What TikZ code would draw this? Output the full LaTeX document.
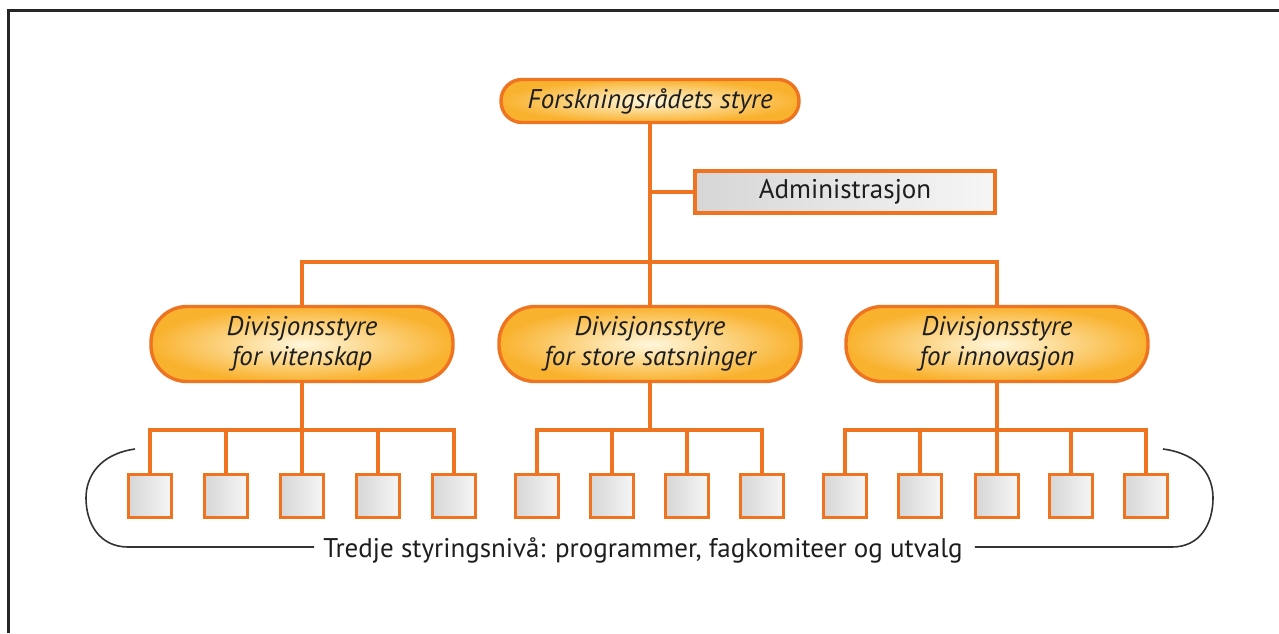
\documentclass[tikz,border=0pt]{standalone}
\usepackage{fontspec}
\setmainfont{PT Sans}
\begin{document}
\begin{tikzpicture}[x=1pt,y=-1pt,
  orangeline/.style={draw=orgline,line width=3.4pt},
  link/.style={orangeline,line cap=rect},
  pill/.style={orangeline,rounded corners=#1,inner color=pillin,outer color=pillout,
    font=\itshape\color{txt},align=center},
  adminbox/.style={orangeline,left color=boxdark,right color=boxlight,
    minimum width=300pt,minimum height=42pt,font=\fontsize{27}{30}\selectfont\color{txt}},
  unitbox/.style={orangeline,left color=boxdark,right color=boxlight,
    minimum width=43pt,minimum height=43pt,inner sep=0pt},
  bracket/.style={draw=black!80,line width=1.6pt}]
\definecolor{orgline}{HTML}{EE7421}
\definecolor{pillin}{HTML}{FFF7DC}
\definecolor{pillout}{HTML}{F9B22E}
\definecolor{boxdark}{HTML}{D6D6D6}
\definecolor{boxlight}{HTML}{F6F6F6}
\definecolor{txt}{HTML}{1E1E1E}
\useasboundingbox (0,0) rectangle (1279,633);
\fill[white] (0,0) rectangle (1279,633);
% frame
\draw[black!85,line width=2.2pt] (8.5,633) -- (8.5,10.5) -- (1279,10.5);

% top level
\node[pill=21pt,minimum width=298pt,minimum height=43pt,font=\itshape\fontsize{27}{30}\selectfont\color{txt}]
  (top) at (650,101) {Forskningsrådets styre};
\node[adminbox] (adm) at (845,192) {Administrasjon};

% division boards
\tikzset{div/.style={pill=36pt,minimum width=302pt,minimum height=75pt,
  font=\itshape\fontsize{27}{30}\selectfont\color{txt}}}
\node[div] (dl) at (302,344) {Divisjonsstyre\\for vitenskap};
\node[div] (dm) at (650,344) {Divisjonsstyre\\for store satsninger};
\node[div] (dr) at (997,344) {Divisjonsstyre\\for innovasjon};

% third level units
\foreach \n/\x in {l1/150,l2/226,l3/302,l4/378,l5/454,
                   m1/537,m2/612,m3/687,m4/762,
                   r1/845,r2/920,r3/997,r4/1071,r5/1146}
  \node[unitbox] (\n) at (\x,496) {};

% connectors
\coordinate (bus) at (650,262);
\draw[link] (top) -- (dm);
\draw[link] (top.south |- adm.west) -- (adm.west);
\draw[link] (dl.north) |- (bus) -| (dr.north);

\coordinate (bl) at (302,430);
\coordinate (bm) at (650,430);
\coordinate (br) at (997,430);
\draw[link] (dl) -- (bl);
\draw[link] (dm) -- (bm);
\draw[link] (dr) -- (br);
\draw[link] (l1.north) |- (bl) -| (l5.north);
\foreach \n in {l2,l3,l4} \draw[link] (\n.north) -- (\n.north |- bl);
\draw[link] (m1.north) |- (bm) -| (m4.north);
\foreach \n in {m2,m3} \draw[link] (\n.north) -- (\n.north |- bm);
\draw[link] (r1.north) |- (br) -| (r5.north);
\foreach \n in {r2,r3,r4} \draw[link] (\n.north) -- (\n.north |- br);

% bracket around the third level
\node[font=\fontsize{27}{30}\selectfont,text=txt,inner sep=0pt] (lvl) at (643,550)
  {Tredje styringsnivå: programmer, fagkomiteer og utvalg};
\coordinate (bl0) at (135,449);
\coordinate (br0) at (1163,449);
\draw[bracket] (bl0) .. controls (100,454) and (86,476) .. (86,498)
  .. controls (86,524) and (100,547) .. (128,547) -- ([xshift=-9pt]lvl.west |- 0,547);
\draw[bracket] ([xshift=12pt]lvl.east |- 0,547) -- (1172,547)
  .. controls (1200,547) and (1213,524) .. (1213,498)
  .. controls (1213,476) and (1200,454) .. (br0);
\end{tikzpicture}
\end{document}
